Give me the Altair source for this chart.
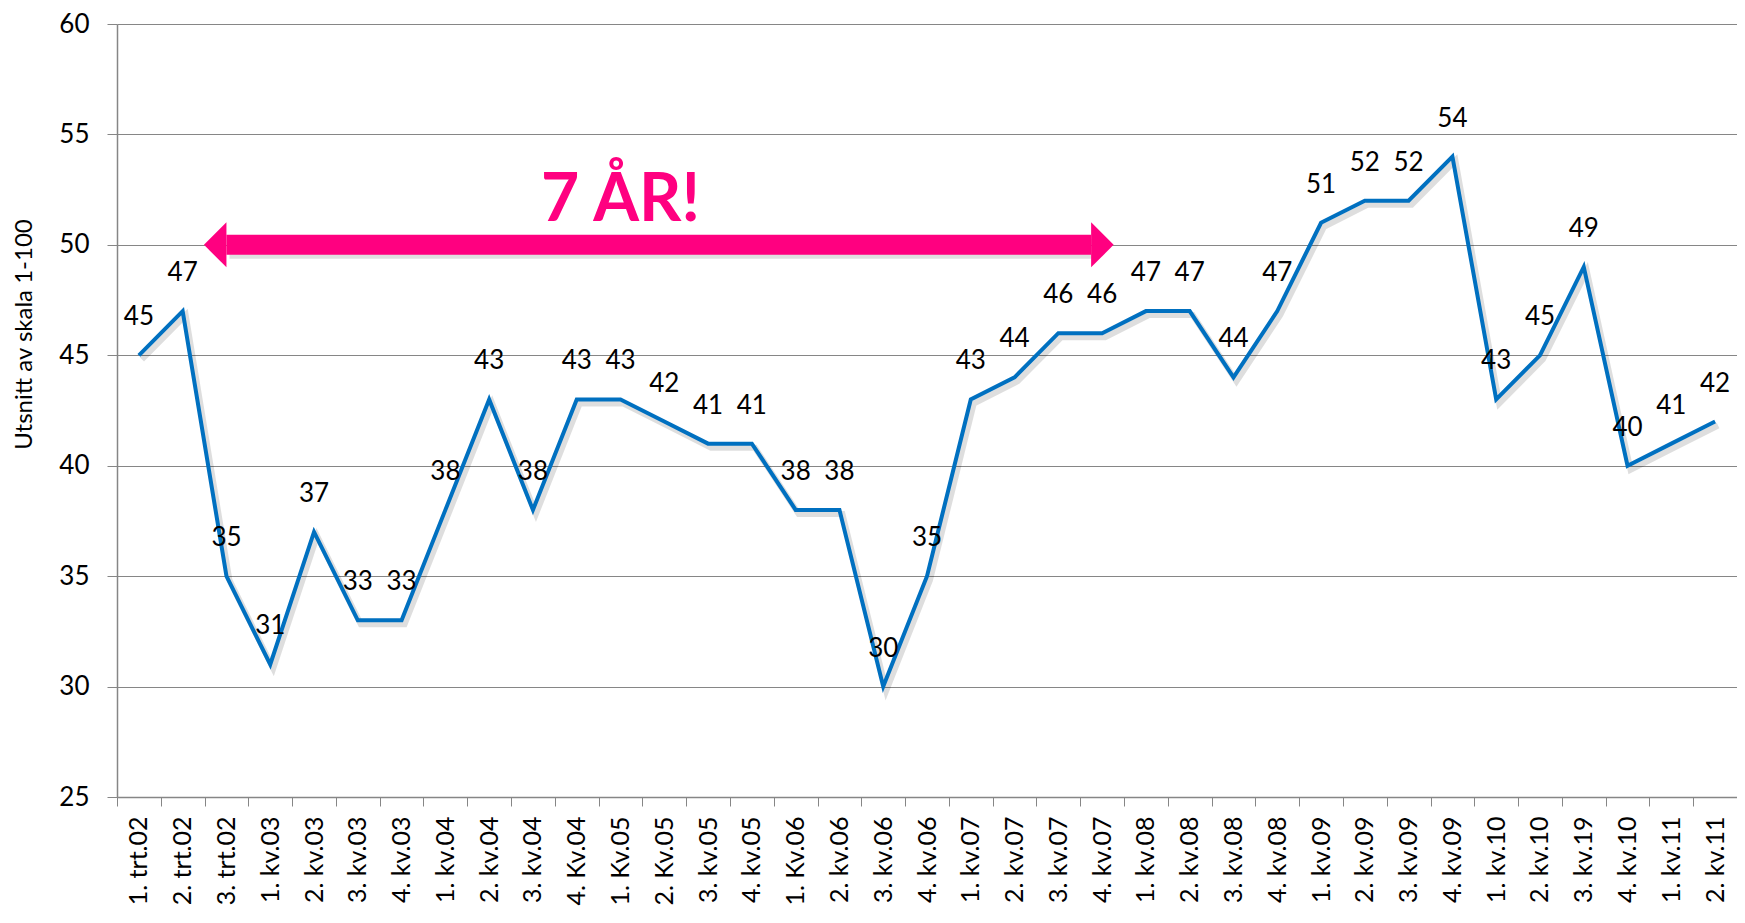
import altair as alt
import pandas as pd

categories = [
    "1. trt.02", "2. trt.02", "3. trt.02",
    "1. kv.03", "2. kv.03", "3. kv.03", "4. kv.03",
    "1. kv.04", "2. kv.04", "3. kv.04", "4. Kv.04",
    "1. Kv.05", "2. Kv.05", "3. kv.05", "4. kv.05",
    "1. Kv.06", "2. kv.06", "3. kv.06", "4. kv.06",
    "1. kv.07", "2. kv.07", "3. kv.07", "4. kv.07",
    "1. kv.08", "2. kv.08", "3. kv.08", "4. kv.08",
    "1. kv.09", "2. kv.09", "3. kv.09", "4. kv.09",
    "1. kv.10", "2. kv.10", "3. kv.19", "4. kv.10",
    "1. kv.11", "2. kv.11",
]
values = [
    45, 47, 35,
    31, 37, 33, 33,
    38, 43, 38, 43,
    43, 42, 41, 41,
    38, 38, 30, 35,
    43, 44, 46, 46,
    47, 47, 44, 47,
    51, 52, 52, 54,
    43, 45, 49, 40,
    41, 42,
]
y_ticks = [25, 30, 35, 40, 45, 50, 55, 60]

arrow_start = ["3. trt.02"]
arrow_end = ["4. kv.07"]
arrow_level = [50]
note_text = ["7 ÅR!"]
note_pos = ["1. Kv.05"]
note_level = [52]

FONT = "Lato"
BLUE = "#0070C0"
PINK = "#FF0080"
GRID = "#868686"

df = pd.DataFrame({"kvartal": categories, "verdi": values})
arrow_df = pd.DataFrame({"kvartal": arrow_start, "slutt": arrow_end, "verdi": arrow_level})
head_l = pd.DataFrame({"kvartal": arrow_start, "verdi": arrow_level})
head_r = pd.DataFrame({"kvartal": arrow_end, "verdi": arrow_level})
note_df = pd.DataFrame({"kvartal": note_pos, "verdi": note_level, "tekst": note_text})

x_enc = alt.X(
    "kvartal:N",
    sort=categories,
    scale=alt.Scale(type="band", domain=categories, paddingInner=0, paddingOuter=0),
    axis=alt.Axis(
        title=None,
        labelAngle=-90,
        labelFontSize=25,
        labelFont=FONT,
        labelColor="#000000",
        labelPadding=10,
        tickSize=9,
        tickColor=GRID,
        tickBand="extent",
        domainColor=GRID,
        domainWidth=1.5,
        grid=False,
        labelOverlap=False,
    ),
)
y_enc = alt.Y(
    "verdi:Q",
    scale=alt.Scale(domain=[25, 60], nice=False, zero=False),
    axis=alt.Axis(
        title="Utsnitt av skala 1-100",
        values=y_ticks,
        titleFont=FONT,
        titleFontSize=24,
        titleFontWeight="normal",
        titleColor="#000000",
        titleAngle=-90,
        titleX=-93,
        titleY=310,
        titleAlign="center",
        titleBaseline="middle",
        labelFontSize=26,
        labelFont=FONT,
        labelColor="#000000",
        labelPadding=18,
        tickSize=10,
        tickColor=GRID,
        domainColor=GRID,
        domainWidth=1.5,
        grid=True,
        gridColor=GRID,
        gridWidth=1.2,
    ),
)

base = alt.Chart(df)

line_shadow = base.mark_line(
    color="#000000", opacity=0.13, strokeWidth=6, xOffset=3, yOffset=4
).encode(x=x_enc, y=y_enc)

line = base.mark_line(color=BLUE, strokeWidth=4).encode(x=x_enc, y=y_enc)

labels = base.mark_text(
    dy=-38, fontSize=26, font=FONT, color="#000000", baseline="middle", align="center"
).encode(x=x_enc, y=y_enc, text="verdi:Q")

shaft_shadow = alt.Chart(arrow_df).mark_rule(
    color="#000000", opacity=0.12, strokeWidth=20, strokeCap="butt",
    x2Offset=-8, xOffset=3, yOffset=4,
).encode(x=x_enc, x2="slutt:N", y=y_enc)

shaft = alt.Chart(arrow_df).mark_rule(
    color=PINK, strokeWidth=20, strokeCap="butt", x2Offset=-11
).encode(x=x_enc, x2="slutt:N", y=y_enc)

left_head = alt.Chart(head_l).mark_point(
    shape="M0,-1L-1,0L0,1Z", size=2025, filled=True, color=PINK, opacity=1, strokeWidth=0
).encode(x=x_enc, y=y_enc)

right_head = alt.Chart(head_r).mark_point(
    shape="M0,-1L1,0L0,1Z", size=2025, filled=True, color=PINK, opacity=1, strokeWidth=0,
    xOffset=-11,
).encode(x=x_enc, y=y_enc)

note = alt.Chart(note_df).mark_text(
    fontSize=66, font=FONT, fontWeight="bold", color=PINK, baseline="middle", align="center"
).encode(x=x_enc, y=y_enc, text="tekst:N")

chart = alt.layer(
    line_shadow, line, labels, shaft_shadow, shaft, left_head, right_head, note
).properties(
    width=1620,
    height=773,
    padding={"left": 109, "top": 16, "right": 0, "bottom": 116},
    autosize=alt.AutoSizeParams(type="none"),
    background="#FFFFFF",
).configure_view(stroke=None)

chart.save("out.html", embed_options={"renderer": "svg", "actions": False})
